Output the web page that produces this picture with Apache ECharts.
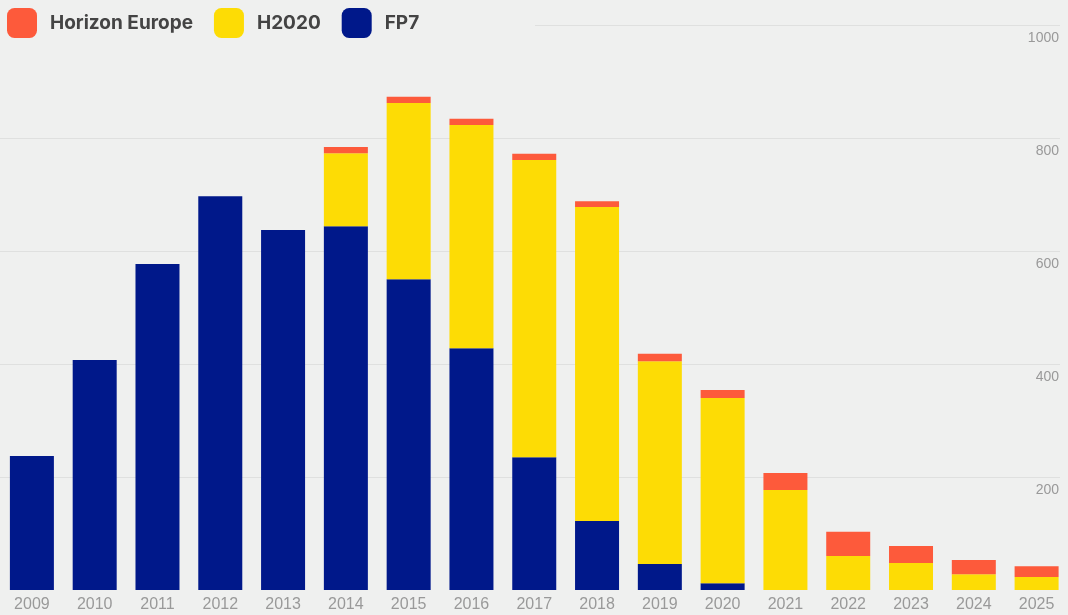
<!DOCTYPE html>
<html>
<head>
<meta charset="utf-8">
<script src="https://cdn.jsdelivr.net/npm/echarts@6/dist/echarts.min.js"></script>
<style>
html,body{margin:0;padding:0;background:#eff0ef;}
#chart{width:1068px;height:615px;}
</style>
</head>
<body>
<div id="chart"></div>
<script>
const years = ['2009','2010','2011','2012','2013','2014','2015','2016','2017','2018','2019','2020','2021','2022','2023','2024','2025'];
const fp7 = [237, 407, 577, 697, 637, 644, 550, 428, 235, 122, 46, 12, 0, 0, 0, 0, 0];
const h2020 = [0, 0, 0, 0, 0, 129, 312, 395, 526, 556, 359, 328, 177, 60, 48, 28, 23];
const horizonEurope = [0, 0, 0, 0, 0, 11, 11, 11, 11, 10, 13, 14, 30, 43, 30, 25, 19];
const yTicks = [0, 200, 400, 600, 800, 1000];

const BG = '#eff0ef';
const chart = echarts.init(document.getElementById('chart'));
chart.setOption({
  backgroundColor: BG,
  animation: false,
  legend: {
    left: 7, top: 8, padding: 0,
    itemWidth: 30, itemHeight: 30, itemGap: 21,
    icon: 'roundRect',
    z: 10,
    data: ['Horizon Europe', 'H2020', 'FP7'],
    textStyle: { fontFamily: 'Inter', fontWeight: 700, fontSize: 19, color: '#444444', padding: [0, 0, 0, 8] }
  },
  graphic: [{
    type: 'rect', left: 0, top: 14, z: 2,
    shape: { width: 535, height: 22 },
    style: { fill: BG }
  }],
  grid: [
    { left: 0.5, top: 25, width: 1071, height: 565 },
    { left: 0, top: 25, width: 1060, height: 565 }
  ],
  xAxis: [{
    type: 'category', gridIndex: 0, data: years,
    axisLine: { show: false }, axisTick: { show: false },
    axisLabel: { margin: 7, color: '#999999', fontSize: 16, fontFamily: 'Liberation Sans' }
  }, {
    type: 'category', gridIndex: 1, data: years, show: false
  }],
  yAxis: [{
    type: 'value', gridIndex: 0, position: 'right', min: 0, max: 1000, interval: 200,
    splitLine: { show: false }, axisLine: { show: false }, axisTick: { show: false },
    axisLabel: {
      inside: true, margin: 9, showMinLabel: false,
      formatter: v => String(v),
      color: '#999999', fontSize: 14, fontFamily: 'Liberation Sans',
      verticalAlign: 'top', padding: [6, 0, 0, 0]
    }
  }, {
    type: 'value', gridIndex: 1, min: yTicks[0], max: yTicks[yTicks.length - 1], interval: 200,
    axisLine: { show: false }, axisTick: { show: false }, axisLabel: { show: false },
    splitLine: { show: true, showMinLine: false, lineStyle: { color: '#dfe0df', width: 1 } }
  }],
  series: [
    { name: 'FP7', type: 'bar', stack: 'total', barWidth: 44, data: fp7, itemStyle: { color: '#00188a' } },
    { name: 'H2020', type: 'bar', stack: 'total', barWidth: 44, data: h2020, itemStyle: { color: '#fddc05' } },
    { name: 'Horizon Europe', type: 'bar', stack: 'total', barWidth: 44, data: horizonEurope, itemStyle: { color: '#fd5a3b' } }
  ]
});
</script>
</body>
</html>
